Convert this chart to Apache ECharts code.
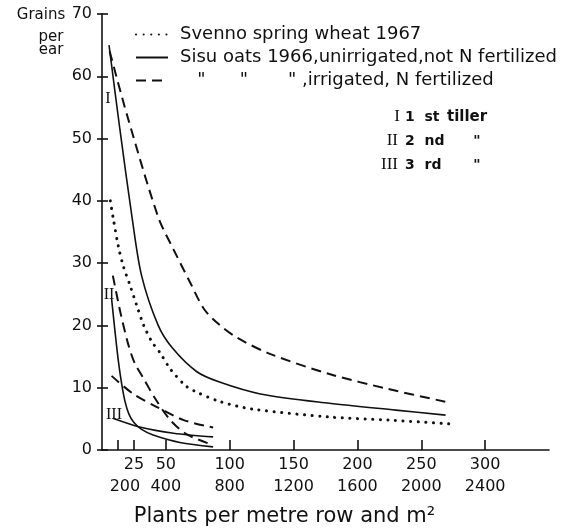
<!DOCTYPE html>
<html><head><meta charset="utf-8">
<script src="https://cdn.jsdelivr.net/npm/echarts@6/dist/echarts.min.js"></script>
<style>html,body{margin:0;padding:0;background:#fff}#c{width:577px;height:532px}</style>
</head><body><div id="c"></div>
<script>
// ---- axis ticks / labels ----
const xTickValues = [12.5, 25, 50, 100, 150, 200, 250, 300];
const xLabelValues = [25, 50, 100, 150, 200, 250, 300];
const m2Labels = ['200', '400', '800', '1200', '1600', '2000', '2400'];

// ---- series names ----
const nameWheat = 'Svenno spring wheat 1967';
const nameDry = 'Sisu oats 1966,unirrigated,not N fertilized';
const nameWet = '   "      "       " ,irrigated, N fertilized';

// ---- Svenno spring wheat 1967 (dotted) ----
const wheatX = [6.5, 8.8, 12.8, 16.7, 22, 27.2, 32.5, 39, 45.5, 53.5, 65, 72, 92, 117, 178, 225, 272];
const wheatY = [40, 37.2, 32.7, 29.5, 26.4, 23.2, 20.1, 17.4, 15.6, 13.0, 10.4, 9.5, 7.8, 6.6, 5.3, 4.8, 4.2];

// ---- Sisu oats unirrigated, 1st tiller (solid) ----
const dry1X = [5.5, 14, 23.5, 31, 44, 55, 74, 92, 124, 178, 230, 269];
const dry1Y = [65, 51.5, 37.4, 28, 20, 16.4, 12.6, 10.9, 9.0, 7.5, 6.4, 5.6];
// ---- Sisu oats irrigated, 1st tiller (dashed) ----
const wet1X = [6, 20, 44, 56, 69, 80, 92, 106, 132, 178, 224, 270];
const wet1Y = [64, 53.5, 37.4, 32.2, 26.9, 22.6, 20.1, 18.0, 15.4, 12.2, 9.8, 7.7];

// ---- 2nd tiller ----
const dry2X = [7.5, 10.2, 12.8, 15.4, 18, 21, 25, 31, 40, 61, 87];
const dry2Y = [24.3, 19, 14.3, 10.6, 7.8, 5.8, 4.4, 3.3, 2.4, 1.2, 0.5];
const wet2X = [8.5, 14.5, 20.5, 25.5, 32.5, 41.5, 53.5, 66.5, 87];
const wet2Y = [28, 22, 17, 14, 11.5, 8.3, 4.8, 2.5, 0.8];

// ---- 3rd tiller ----
const dry3X = [8.5, 29.5, 56, 87];
const dry3Y = [5.1, 3.7, 2.7, 2.1];
const wet3X = [7.5, 24.5, 43, 64, 87];
const wet3Y = [11.9, 9.0, 6.9, 4.8, 3.6];

const zip = (xs, ys) => xs.map((x, i) => [x, ys[i]]);
const FONT = 'DejaVu Sans';
const INK = '#111';

const solid = { color: INK, width: 1.6, type: 'solid' };
const dashed = { color: INK, width: 2, type: [10, 6] };
const dotted = { color: INK, width: 3, type: [0.1, 7.5], cap: 'round' };

function mk(name, xs, ys, ls) {
  return {
    type: 'line', name, data: zip(xs, ys), symbol: 'none', showSymbol: false,
    smooth: 0.3, lineStyle: ls, color: INK,
    emphasis: { disabled: true }, silent: true
  };
}

const chart = echarts.init(document.getElementById('c'), null, { renderer: 'canvas' });
chart.setOption({
  animation: false,
  backgroundColor: '#fff',
  textStyle: { fontFamily: FONT, color: INK },
  grid: { left: 102, right: 28, top: 14, bottom: 75 },
  title: {
    text: '{g|Grains}\n{p|per}\n{p|ear}',
    left: 36, top: -5, textAlign: 'center',
    textStyle: {
      rich: {
        g: { fontFamily: FONT, fontSize: 15, fontWeight: 'normal', color: INK, lineHeight: 31 },
        p: { fontFamily: FONT, fontSize: 15, fontWeight: 'normal', color: INK, lineHeight: 13, padding: [0, 0, 0, 20] }
      }
    }
  },
  legend: {
    orient: 'vertical', left: 130, top: 20, itemWidth: 32, itemHeight: 14, itemGap: 4,
    selectedMode: false,
    itemStyle: { color: 'rgba(0,0,0,0)', borderWidth: 0, opacity: 0 },
    textStyle: { fontFamily: FONT, fontSize: 18, color: INK, lineHeight: 19, padding: [0, 0, 0, 7] },
    data: [nameWheat, nameDry, nameWet]
  },
  xAxis: {
    type: 'value', min: 0, max: 350,
    name: 'Plants per metre row and m²', nameLocation: 'middle', nameGap: 56,
    nameTextStyle: { fontFamily: FONT, fontSize: 21, color: INK, padding: [0, 82, 0, 0] },
    axisLine: { show: true, lineStyle: { color: INK, width: 1.6 } },
    axisTick: { show: true, inside: true, length: 10, customValues: xTickValues, lineStyle: { color: INK, width: 1.6 } },
    axisLabel: {
      show: true, margin: 5, customValues: [0].concat(xLabelValues), color: INK, hideOverlap: false,
      formatter: function (v) {
        const i = xLabelValues.indexOf(v);
        if (i < 0) return '';
        return '{a|' + v + '}\n{' + (i === 0 ? 'c' : 'b') + '|' + m2Labels[i] + '}';
      },
      rich: {
        a: { fontFamily: FONT, fontSize: 16, color: INK, lineHeight: 20 },
        b: { fontFamily: FONT, fontSize: 16, color: INK, lineHeight: 24 },
        c: { fontFamily: FONT, fontSize: 16, color: INK, lineHeight: 24, padding: [0, 18, 0, 0] }
      }
    },
    splitLine: { show: false }
  },
  yAxis: [{
    type: 'value', min: 0, max: 70, interval: 10, position: 'left',
    axisLine: { show: true, lineStyle: { color: INK, width: 1.6 } },
    axisTick: { show: true, inside: false, length: 5, lineStyle: { color: INK, width: 1.6 } },
    axisLabel: { fontFamily: FONT, fontSize: 16, color: INK, margin: 10 },
    splitLine: { show: false }
  }, {
    type: 'value', min: 0, max: 70, interval: 10, position: 'left', offset: 0,
    axisLine: { show: false },
    axisTick: { show: true, inside: true, length: 6, lineStyle: { color: INK, width: 1.6 } },
    axisLabel: { show: false },
    splitLine: { show: false }
  }],
  series: [
    mk(nameWheat, wheatX, wheatY, dotted),
    mk(nameDry, dry1X, dry1Y, solid),
    mk(nameWet, wet1X, wet1Y, dashed),
    mk(nameDry, dry2X, dry2Y, solid),
    mk(nameWet, wet2X, wet2Y, dashed),
    mk(nameDry, dry3X, dry3Y, solid),
    mk(nameWet, wet3X, wet3Y, dashed)
  ],
  graphic: [
    // tiller key
    { type: 'text', x: 400, y: 117, style: { text: 'I', font: '17px "Liberation Serif"', fill: INK, align: 'right', verticalAlign: 'middle' } },
    { type: 'text', x: 398, y: 141, style: { text: 'II', font: '17px "Liberation Serif"', fill: INK, align: 'right', verticalAlign: 'middle' } },
    { type: 'text', x: 398, y: 165, style: { text: 'III', font: '17px "Liberation Serif"', fill: INK, align: 'right', verticalAlign: 'middle' } },
    { type: 'text', x: 405, y: 117, style: { text: '1  st', font: 'bold 14px "DejaVu Sans"', fill: INK, align: 'left', verticalAlign: 'middle' } },
    { type: 'text', x: 405, y: 141, style: { text: '2  nd', font: 'bold 14px "DejaVu Sans"', fill: INK, align: 'left', verticalAlign: 'middle' } },
    { type: 'text', x: 405, y: 165, style: { text: '3  rd', font: 'bold 14px "DejaVu Sans"', fill: INK, align: 'left', verticalAlign: 'middle' } },
    { type: 'text', x: 447, y: 117, style: { text: 'tiller', font: 'bold 15px "DejaVu Sans"', fill: INK, align: 'left', verticalAlign: 'middle' } },
    { type: 'text', x: 477, y: 141, style: { text: '"', font: 'bold 14px "DejaVu Sans"', fill: INK, align: 'center', verticalAlign: 'middle' } },
    { type: 'text', x: 477, y: 165, style: { text: '"', font: 'bold 14px "DejaVu Sans"', fill: INK, align: 'center', verticalAlign: 'middle' } },
    // curve labels
    { type: 'text', x: 108, y: 99, style: { text: 'I', font: '16px "Liberation Serif"', fill: INK, align: 'center', verticalAlign: 'middle' } },
    { type: 'text', x: 109, y: 295, style: { text: 'II', font: '16px "Liberation Serif"', fill: INK, align: 'center', verticalAlign: 'middle' } },
    { type: 'text', x: 114, y: 415, style: { text: 'III', font: '16px "Liberation Serif"', fill: INK, align: 'center', verticalAlign: 'middle' } }
  ]
});
</script>
</body></html>
